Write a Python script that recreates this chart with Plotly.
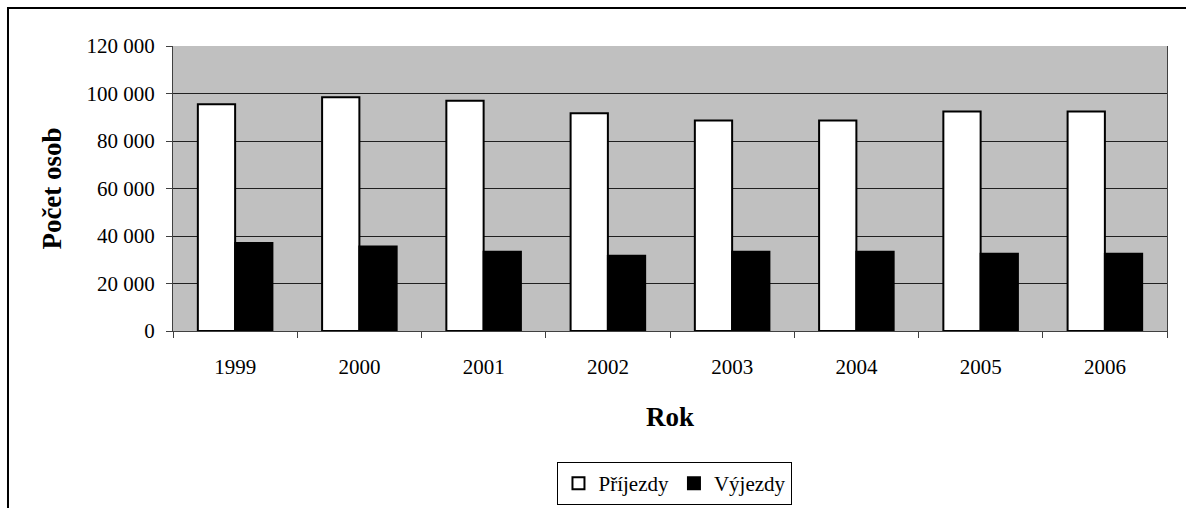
import plotly.graph_objects as go

years = ["1999", "2000", "2001", "2002", "2003", "2004", "2005", "2006"]
prijezdy = [95500, 98400, 97000, 91700, 88600, 88600, 92400, 92400]
vyjezdy = [37100, 35600, 33400, 31700, 33400, 33400, 32500, 32500]

FONT = "Liberation Serif"

fig = go.Figure()
fig.add_trace(go.Bar(x=years, y=prijezdy, name="Příjezdy",
                     marker=dict(color="white", line=dict(color="black", width=2))))
fig.add_trace(go.Bar(x=years, y=vyjezdy, name="Výjezdy",
                     marker=dict(color="black", line=dict(color="black", width=2))))

fig.update_layout(
    width=1186, height=508,
    margin=dict(l=173, r=19, t=46, b=177, autoexpand=False),
    paper_bgcolor="white",
    plot_bgcolor="#C0C0C0",
    barmode="group",
    bargap=0.4,
    bargroupgap=0,
    separators=", ",
    font=dict(family=FONT, size=21, color="black"),
    showlegend=True,
    legend=dict(orientation="h", x=0.505, xanchor="center", y=-0.46, yanchor="top",
                bordercolor="black", borderwidth=1, bgcolor="white",
                font=dict(family=FONT, size=21), itemwidth=30, tracegroupgap=0),
    xaxis=dict(
        type="category",
        tickson="boundaries",
        ticks="outside", ticklen=6, tickcolor="#404040",
        showline=True, linecolor="#404040", linewidth=1,
        showgrid=False, automargin=False,
        ticklabelstandoff=17,
        tickfont=dict(family=FONT, size=21),
        title=dict(text="<b>Rok</b>", font=dict(family=FONT, size=27), standoff=28),
    ),
    yaxis=dict(
        range=[0, 120000], dtick=20000, tickformat=",d",
        ticks="outside", ticklen=6, tickcolor="#404040",
        showline=True, linecolor="#404040", linewidth=1, mirror=True,
        showgrid=True, gridcolor="#202020", gridwidth=1,
        zeroline=False, automargin=False,
        ticklabelstandoff=7,
        tickfont=dict(family=FONT, size=21),
        title=dict(text="<b>Počet osob</b>", font=dict(family=FONT, size=27), standoff=17),
    ),
)

fig.add_shape(type="rect", xref="paper", yref="paper",
              x0=-0.166, x1=1.05, y0=-0.7, y1=1.133,
              line=dict(color="black", width=2), fillcolor="rgba(0,0,0,0)", layer="above")

fig.write_html("out.html", config={"displayModeBar": False},
               post_script="document.body.style.margin='0';document.body.style.overflow='hidden';")
